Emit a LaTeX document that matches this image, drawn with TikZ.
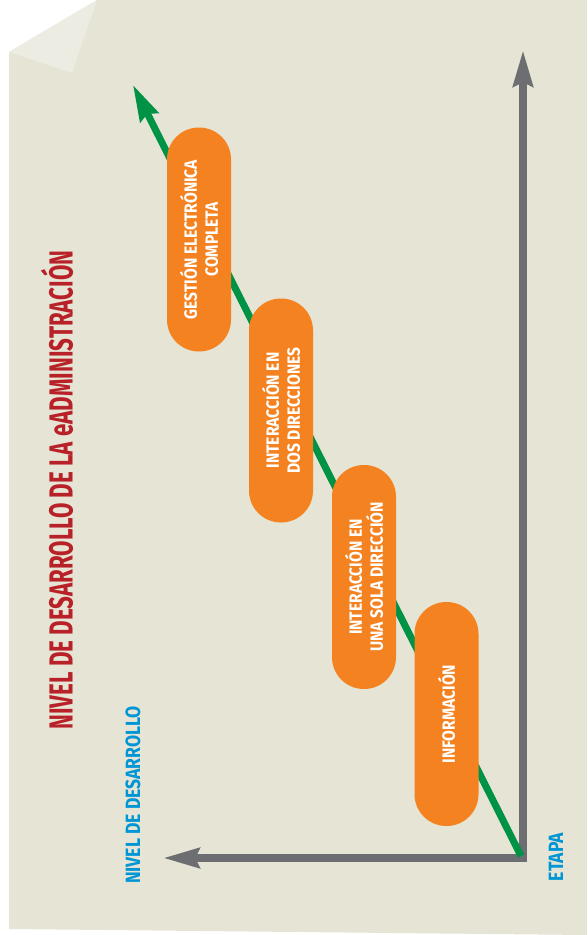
\documentclass[tikz,border=0pt]{standalone}
\usepackage{fontspec}
\setmainfont{Fira Sans}
\newfontfamily\titlefont[FakeStretch=0.67]{Fira Sans}
\newfontfamily\pillfont[FakeStretch=0.88]{Fira Sans}
\newfontfamily\labelfont[FakeStretch=0.85]{Fira Sans}
\usetikzlibrary{arrows.meta}

\definecolor{pagebg}{RGB}{230,228,212}
\definecolor{foldbg}{RGB}{237,236,227}
\definecolor{axisgray}{RGB}{109,110,113}
\definecolor{arrowgreen}{RGB}{0,146,69}
\definecolor{pillorange}{RGB}{245,130,32}
\definecolor{titlered}{RGB}{183,33,39}
\definecolor{labelblue}{RGB}{0,150,214}

\tikzset{
  axis/.style={draw=axisgray, line width=6pt, line join=miter,
    {Stealth[length=27pt,width=14.5pt,inset=3pt]}-{Stealth[length=27pt,width=14.5pt,inset=3pt]}},
  growth/.style={draw=arrowgreen, line width=5.25pt,
    -{Stealth[length=27pt,width=15pt,inset=3pt]}},
  pill/.style={rotate=90, fill=pillorange, text=white, rounded corners=23.9pt,
    minimum width=168pt, minimum height=48pt, inner sep=0pt, align=center,
    font=\pillfont\bfseries\fontsize{13.3}{15.75}\selectfont},
  axislabel/.style={rotate=90, text=labelblue, inner sep=0pt,
    font=\labelfont\bfseries\fontsize{15.5}{17}\selectfont}
}

\begin{document}
\begin{tikzpicture}[x=0.75pt,y=0.75pt,yscale=-1,xscale=1]
\useasboundingbox (0,0) rectangle (587,935);

%Shape: Polygon (page)
\fill [pagebg] (9,52) -- (97,0) -- (587,0) -- (587,935) -- (9,929) -- cycle ;
%Shape: Triangle (folded corner)
\fill [foldbg] (9,52) -- (97,0) -- (72,73) -- cycle ;

%Straight Lines (axes)
\coordinate (origin) at (523,858) ;
\coordinate (levelend) at (163,858) ;
\coordinate (stageend) at (523,50) ;
\draw [axis] (levelend) -- (origin) -- (stageend) ;

%Straight Lines (growth)
\coordinate (growthstart) at (521,856) ;
\coordinate (growthend) at (133,85) ;
\draw [growth] (growthstart) -- (growthend) ;

%Rounded Rect (stages)
\node [pill] (info) at (446.5,714) {INFORMACIÓN} ;
\node [pill] (oneway) at (364,577) {INTERACCIÓN EN\\UNA SOLA DIRECCIÓN} ;
\node [pill] (twoway) at (281,410.5) {INTERACCIÓN EN\\DOS DIRECCIONES} ;
\node [pill] (full) at (199,239.5) {GESTIÓN ELECTRÓNICA\\COMPLETA} ;

%Text
\node [rotate=90, text=titlered, inner sep=0pt, font=\titlefont\bfseries\fontsize{25}{28}\selectfont] (title) at (57,490) {NIVEL DE DESARROLLO DE LA eADMINISTRACIÓN} ;
\node [axislabel] (level) at (133,795) {NIVEL DE DESARROLLO} ;
\node [axislabel] (stage) at (556,857) {ETAPA} ;

\end{tikzpicture}
\end{document}
